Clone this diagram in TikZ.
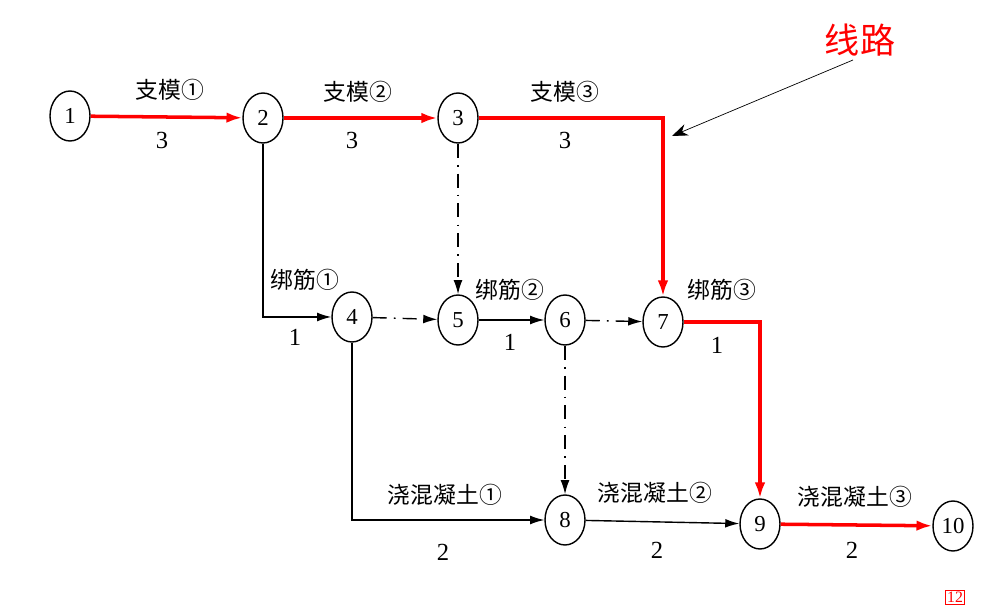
\documentclass[tikz,border=0pt]{standalone}
\usepackage{fontspec}
\setmainfont{Liberation Serif}
\newfontfamily\cjk{Noto Sans CJK SC}
\usetikzlibrary{shapes.geometric,arrows.meta}
\begin{document}
\begin{tikzpicture}[x=0.02cm,y=-0.02cm,
  ev/.style={draw,thick,ellipse,minimum width=0.8cm,minimum height=1cm,inner sep=0pt,font=\fontsize{13}{13}\selectfont},
  act/.style={thick,-{Latex[length=8pt,width=5pt]}},
  crit/.style={-{Latex[length=9pt,width=6pt]},red,line width=2pt},
  dum/.style={act,dash pattern=on 8pt off 4pt on 1pt off 4pt},
  lab/.style={font=\cjk\fontsize{13}{13}\selectfont},
  num/.style={font=\fontsize{14}{14}\selectfont}]
\useasboundingbox (0,0) rectangle (985,611);
\node[ev] (n1) at (70,116) {1};
\node[ev] (n2) at (263,118) {2};
\node[ev] (n3) at (458,118) {3};
\node[ev] (n4) at (352,317) {4};
\node[ev] (n5) at (458,320) {5};
\node[ev] (n6) at (565,320) {6};
\node[ev] (n7) at (663,322) {7};
\node[ev] (n8) at (565,520) {8};
\node[ev] (n9) at (760,524) {9};
\node[ev] (n10) at (953,526) {10};
\draw[crit] (n1) -- (n2);
\draw[crit] (n2) -- (n3);
\draw[crit] (n3.east) -| (n7.north);
\draw[act] (n2.south) |- (n4.west);
\draw[dum] (n3) -- (n5);
\draw[dum] (n4) -- (n5);
\draw[act] (n5) -- (n6);
\draw[dum] (n6) -- (n7);
\draw[crit] (n7.east) -| (n9.north);
\draw[act] (n4.south) |- (n8.west);
\draw[dum] (n6) -- (n8);
\draw[act] (n8) -- (n9);
\draw[crit] (n9) -- (n10);
\node[lab] (l1) at (170,90) {支模①}; \node[num] (d1) at (162,140) {3};
\node[lab] (l2) at (358,92) {支模②}; \node[num] (d2) at (352,140) {3};
\node[lab] (l3) at (565,92) {支模③}; \node[num] (d3) at (565,140) {3};
\node[lab] (l4) at (305,280) {绑筋①}; \node[num] (d4) at (295,337) {1};
\node[lab] (l5) at (510,290) {绑筋②}; \node[num] (d5) at (510,342) {1};
\node[lab] (l6) at (722,290) {绑筋③}; \node[num] (d6) at (717,345) {1};
\node[lab] (l7) at (445,495) {浇混凝土①}; \node[num] (d7) at (443,552) {2};
\node[lab] (l8) at (655,493) {浇混凝土②}; \node[num] (d8) at (657,550) {2};
\node[lab] (l9) at (855,497) {浇混凝土③}; \node[num] (d9) at (852,550) {2};
\node[font=\cjk\fontsize{20}{20}\selectfont,red] (xl) at (860,40) {线路};
\coordinate (xs) at (853,60);
\coordinate (xa) at (672,136);
\draw[-{Stealth[length=9pt]}] (xs) -- (xa);
\node[draw=red,red,font=\fontsize{9}{9}\selectfont,inner sep=1pt] (pg) at (955,597) {12};
\end{tikzpicture}
\end{document}
